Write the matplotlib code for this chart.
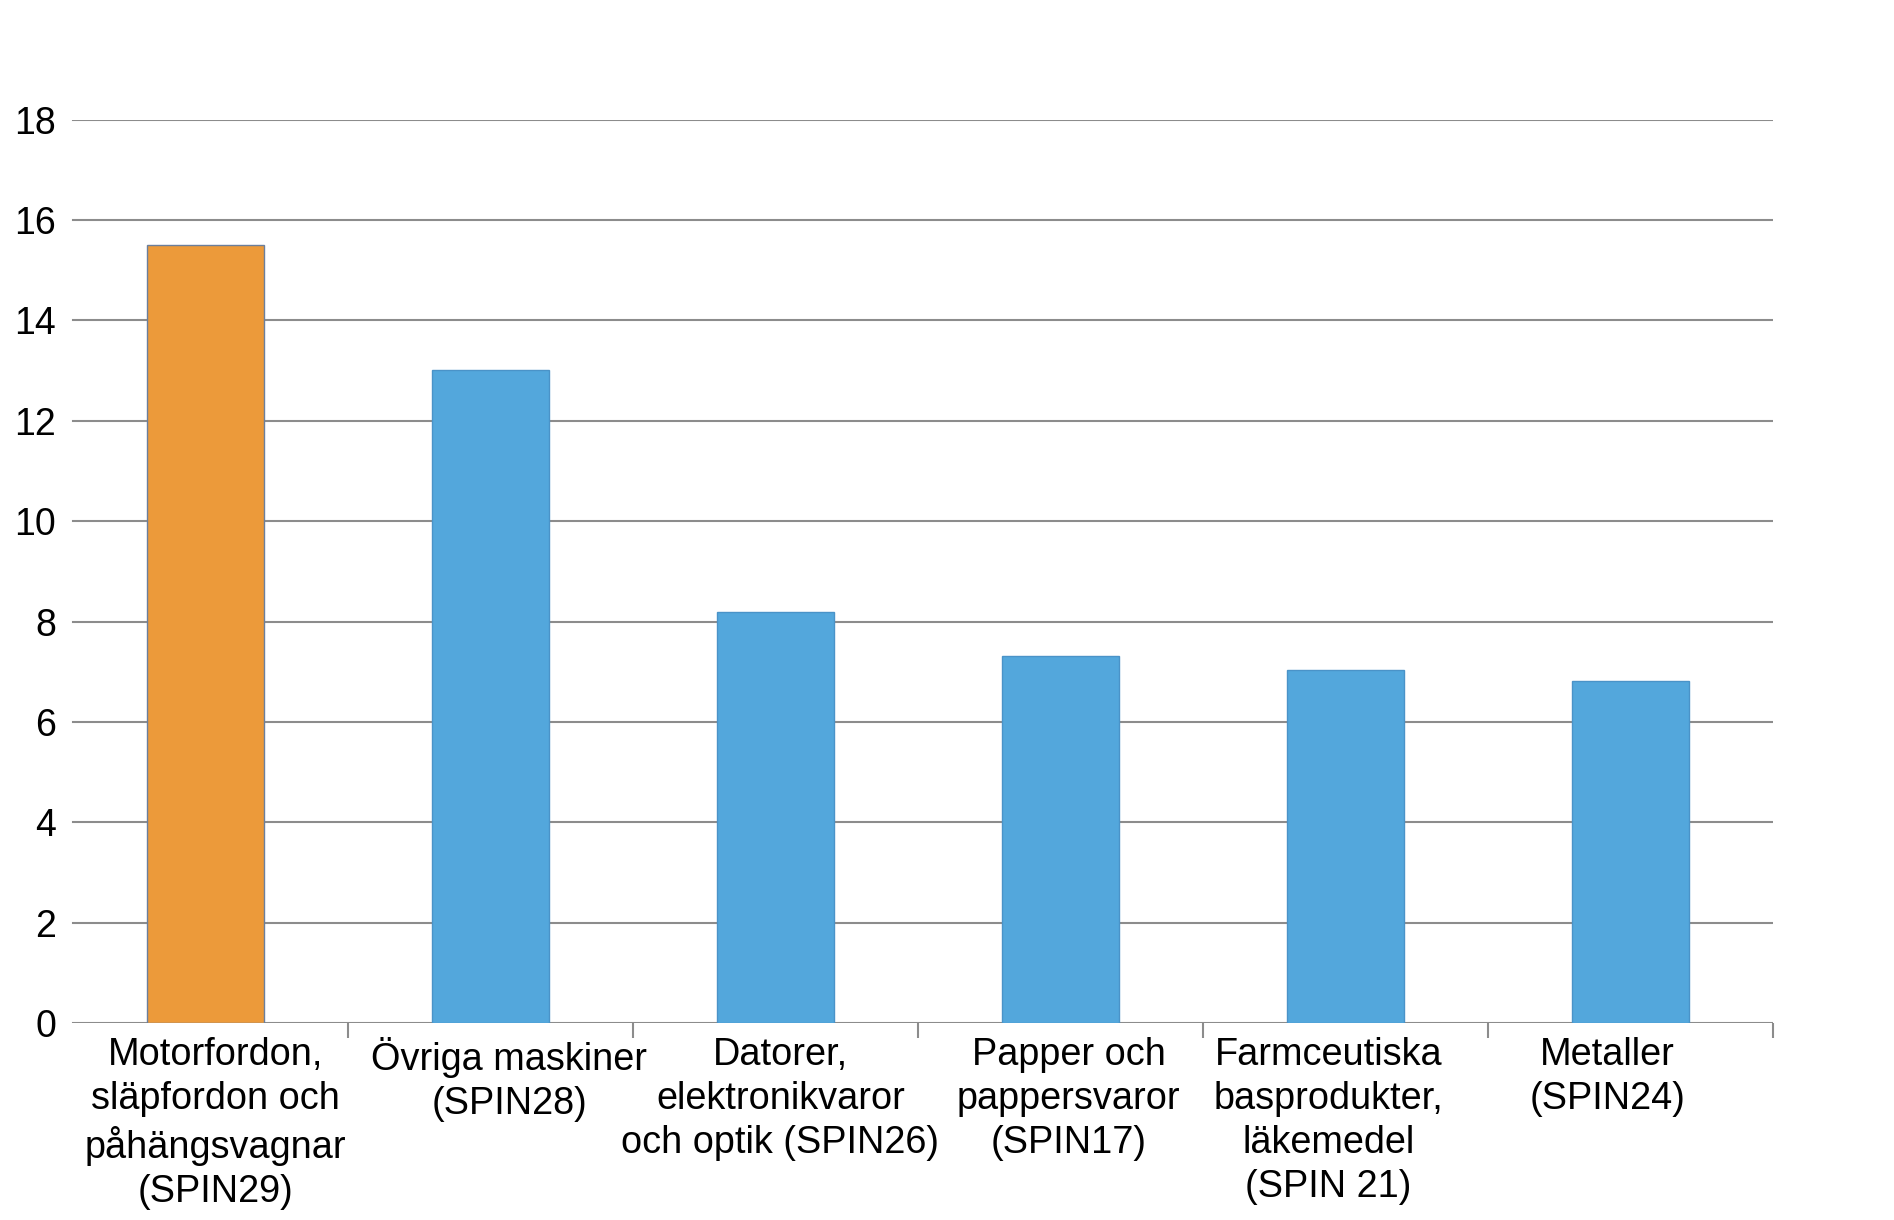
import matplotlib.pyplot as plt
import numpy as np

plt.rcParams['font.family'] = ['Liberation Sans', 'DejaVu Sans']

# data
categories = [
    "Motorfordon,\nsläpfordon och\npåhängsvagnar\n(SPIN29)",
    "Övriga maskiner\n(SPIN28)",
    "Datorer,\nelektronikvaror\noch optik (SPIN26)",
    "Papper och\npappersvaror\n(SPIN17)",
    "Farmceutiska\nbasprodukter,\nläkemedel\n(SPIN 21)",
    "Metaller\n(SPIN24)",
]
values = [15.5, 13.02, 8.2, 7.31, 7.03, 6.81]
highlight = [True, False, False, False, False, False]
yticks = [0, 2, 4, 6, 8, 10, 12, 14, 16, 18]

# the original tool nudged the category labels a little off-centre
label_shift = [0.034, 0.066, 0.017, 0.028, -0.061, -0.081]

orange = "#EC9A3A"
blue = "#53A7DC"
grid_col = "#8C8C8C"

fig = plt.figure(figsize=(18.94, 12.2), dpi=100)
ax = fig.add_axes([0.0332, 0.1613, 0.9031, 0.7407])

x = np.arange(len(categories))
colors = [orange if h else blue for h in highlight]
edges = ["#6B7F9C" if h else "#4A93C8" for h in highlight]
ax.bar(x, values, width=0.41, color=colors, edgecolor=edges, linewidth=1.0, zorder=3)

ax.set_xlim(-0.5, len(categories) - 0.5)
ax.set_ylim(0, 18)

# gridlines start slightly right of the axes edge, as in the original
for y in yticks:
    ax.axhline(y, xmin=0.0057, xmax=1, color=grid_col, linewidth=1.5, zorder=1)

for side in ["top", "right", "left", "bottom"]:
    ax.spines[side].set_visible(False)

ax.set_yticks(yticks)
ax.set_yticklabels([str(v) for v in yticks])
ax.tick_params(axis="y", length=0, pad=5, labelsize=27)

# category boundary ticks (major) and label positions (minor)
ax.set_xticks(np.append(x[:-1] + 0.5, len(categories) - 0.5))
ax.set_xticklabels([])
ax.tick_params(axis="x", which="major", length=11, width=1.5, color=grid_col, direction="out")
ax.set_xticks(x + np.array(label_shift), minor=True)
ax.set_xticklabels(categories, minor=True, fontsize=27.3, linespacing=1.28)
ax.tick_params(axis="x", which="minor", length=0, pad=10)

fig.savefig("out.png", dpi=100)
